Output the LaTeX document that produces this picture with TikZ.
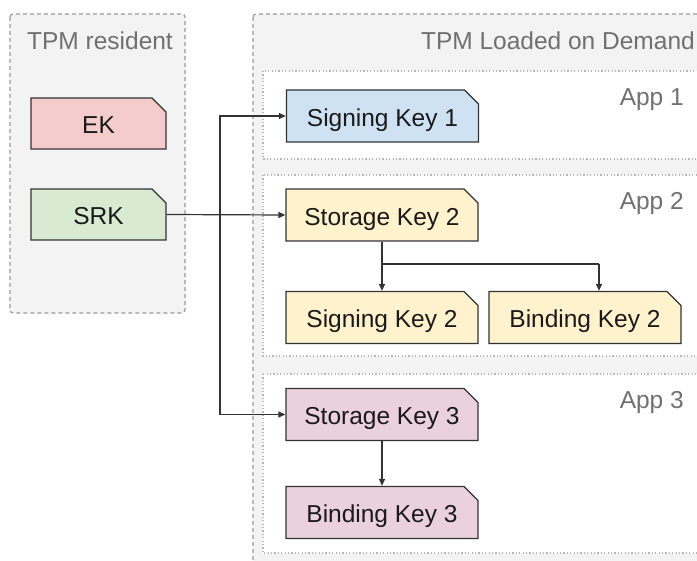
\documentclass[tikz,border=0pt]{standalone}
\usepackage{fontspec}
\setmainfont{Liberation Sans}
\usetikzlibrary{shapes.misc,arrows.meta}
\definecolor{ekfill}{HTML}{F4CCCC}
\definecolor{srkfill}{HTML}{D9EAD3}
\definecolor{bluefill}{HTML}{CFE2F3}
\definecolor{yellowfill}{HTML}{FFF2CC}
\definecolor{pinkfill}{HTML}{EAD1DC}
\definecolor{keyline}{HTML}{333333}
\definecolor{groupfill}{HTML}{F3F3F3}
\definecolor{groupline}{HTML}{999999}
\definecolor{appline}{HTML}{B7B7B7}
\definecolor{labelgray}{HTML}{707070}
\definecolor{keytext}{HTML}{1A1A1A}
\tikzset{
  keybox/.style={chamfered rectangle, chamfered rectangle corners=north east,
    chamfered rectangle xsep=7pt, chamfered rectangle ysep=7pt,
    draw=keyline, line width=1.3pt, inner sep=0pt, text=keytext,
    minimum width=192pt, minimum height=52pt,
    font=\fontsize{24.5}{29}\selectfont, text height=21pt, text depth=0pt},
  smallkey/.style={keybox, minimum width=135pt, minimum height=51pt},
  group/.style={draw=groupline, fill=groupfill, dashed, dash pattern=on 4pt off 3pt,
    line width=1.1pt, rounded corners=3pt},
  appbox/.style={draw=appline, fill=white, dash pattern=on 1.2pt off 2.2pt, line width=1.1pt},
  grouplabel/.style={text=labelgray, font=\fontsize{24.5}{29}\selectfont, inner sep=0pt},
  link/.style={draw=keyline, line width=1.2pt},
  arrow/.style={link, -{Triangle[length=7pt,width=6pt]}}
}
\begin{document}
\begin{tikzpicture}[x=1pt,y=-1pt]
\useasboundingbox (0,0) rectangle (697,561);
\clip (0,0) rectangle (697,561);

% containers
\draw[group] (10,14) rectangle (185,313);
\draw[group] (253,14) rectangle (710,570);
\node[grouplabel] (resident) at (100,41) {TPM resident};
\node[grouplabel, anchor=east] (demand) at (695,41) {TPM Loaded on Demand};

% application groups
\draw[appbox] (263,71) rectangle (712,159);
\draw[appbox] (263,175) rectangle (712,356);
\draw[appbox] (263,374) rectangle (712,553);
\node[grouplabel, anchor=base east] (app1) at (684,106) {App 1};
\node[grouplabel, anchor=base east] (app2) at (684,210) {App 2};
\node[grouplabel, anchor=base east] (app3) at (684,409) {App 3};

% keys
\node[smallkey, fill=ekfill] (ek) at (98.5,123.5) {EK};
\node[smallkey, fill=srkfill] (srk) at (98.5,214.5) {SRK};
\node[keybox, fill=bluefill] (sk1) at (382.5,116) {Signing Key 1};
\node[keybox, fill=yellowfill] (stk2) at (382,215) {Storage Key 2};
\node[keybox, fill=yellowfill] (sgk2) at (382,317.5) {Signing Key 2};
\node[keybox, fill=yellowfill] (bk2) at (585,317.5) {Binding Key 2};
\node[keybox, fill=pinkfill] (stk3) at (382,414.5) {Storage Key 3};
\node[keybox, fill=pinkfill] (bk3) at (382,512.5) {Binding Key 3};

% connectors
\coordinate (bus) at (220,214.5);
\coordinate (split) at (382,264);
\draw[arrow] (srk.east) -- (stk2.west);
\draw[arrow] (bus) |- (sk1.west);
\draw[arrow] (bus) |- (stk3.west);
\draw[arrow] (stk2.south) -- (sgk2.north);
\draw[link] (split) -- (599,264) coordinate (turn);
\draw[arrow] (turn) -- (turn |- bk2.north);
\draw[arrow] (stk3.south) -- (bk3.north);
\end{tikzpicture}
\end{document}
